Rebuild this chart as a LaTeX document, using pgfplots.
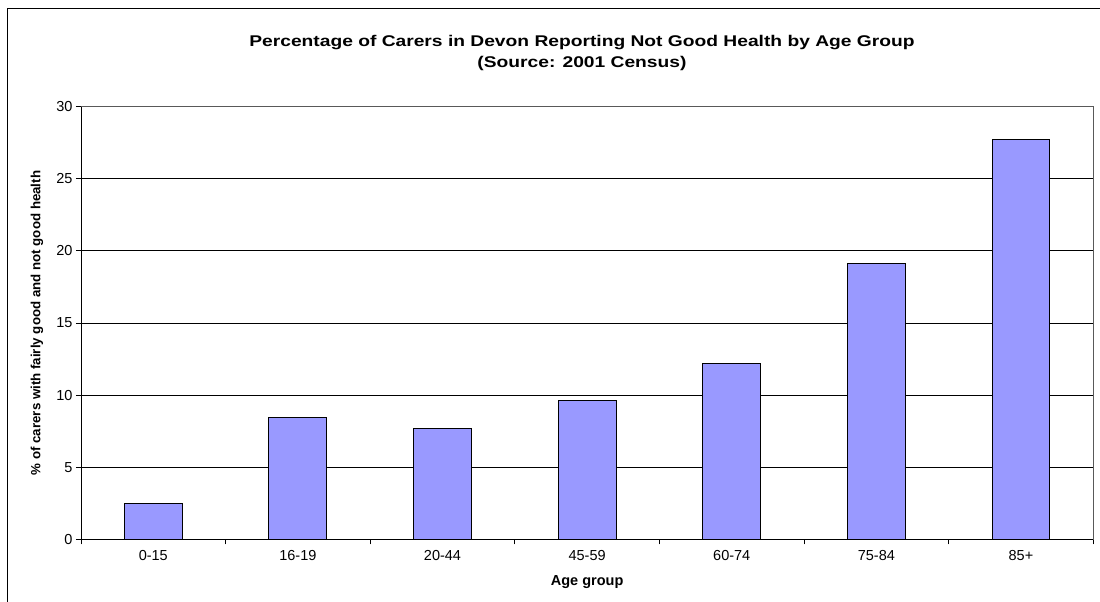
\documentclass[border=0pt]{standalone}
\usepackage{fontspec}
\setmainfont{Liberation Sans}
\usepackage{pgfplots}
\pgfplotsset{compat=1.18}
\definecolor{barblue}{HTML}{9999FF}

\begin{document}
\begin{tikzpicture}[x=1pt,y=1pt]
% page extent and the chart's outer frame
\useasboundingbox (-81,-62.7) rectangle (1019,539.3);
\draw[line width=0.9pt] (-74,-62.7) -- (-74,531.3) -- (1019,531.3);
\begin{axis}[
  name=ax,
  at={(0,0)}, anchor=south west,
  scale only axis, width=1012.3pt, height=432.6pt,
  ybar, bar width=0.4,
  xmin=-0.5, xmax=6.5, ymin=0, ymax=30,
  xtick={0,...,6},
  xticklabels={0-15,16-19,20-44,45-59,60-74,75-84,85+},
  major x tick style={draw=none},
  minor xtick={-0.5,0.5,...,6.5},
  minor tick length=5pt,
  ytick={0,5,...,30},
  major tick length=5pt,
  tick align=outside,
  xtick pos=bottom, ytick pos=left,
  tick style={black, line width=0.8pt},
  ymajorgrids,
  grid style={black, line width=0.8pt},
  axis line style={draw=gray!70!black, line width=0.8pt},
  /pgf/number format/assume math mode=true,
  tick label style={font=\fontsize{14.5}{16}\selectfont},
  xticklabel style={yshift=-3pt},
  ylabel={\% of carers with fairly good and not good health},
  ylabel style={at={(axis description cs:-0.0435,0.5)}, anchor=center,
    font=\bfseries\fontsize{13.3}{15}\selectfont},
  xlabel={Age group},
  xlabel style={at={(axis description cs:0.5,-0.0987)}, anchor=center,
    font=\bfseries\fontsize{14.5}{16}\selectfont},
]
\addplot[fill=barblue, draw=black, line width=1pt] coordinates {
  (0,2.50) (1,8.43) (2,7.67) (3,9.61) (4,12.16) (5,19.14) (6,27.74)
};
% solid left and bottom axis lines
\draw[black, line width=0.9pt] (rel axis cs:0,1) -- (rel axis cs:0,0) -- (rel axis cs:1,0);
\end{axis}
\node[align=center, xscale=1.24, font=\bfseries\fontsize{15.5}{21}\selectfont]
  at (501,486.5) {Percentage of Carers in Devon Reporting Not Good Health by Age Group\\(Source: 2001 Census)};
\end{tikzpicture}
\end{document}
